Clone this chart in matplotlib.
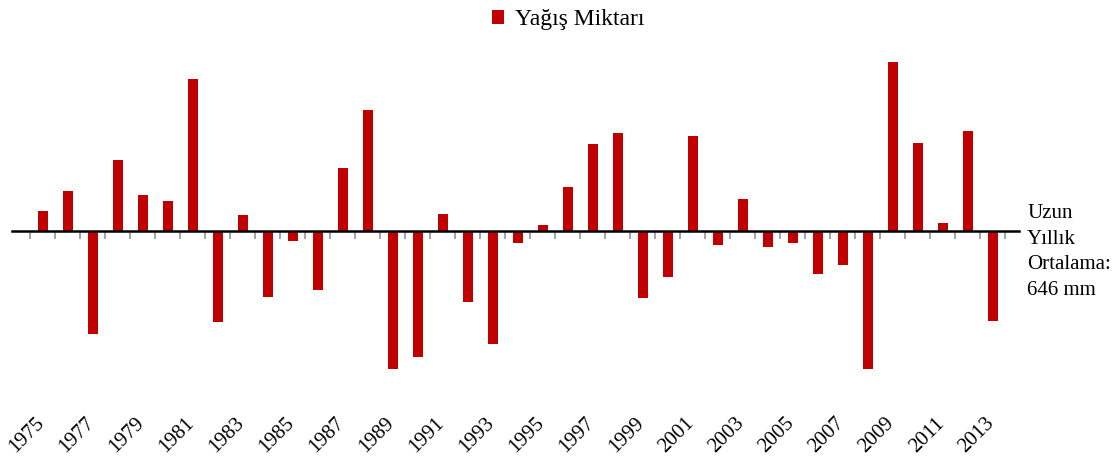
import matplotlib
matplotlib.use("Agg")
import matplotlib.pyplot as plt
from matplotlib.patches import Patch
import numpy as np

plt.rcParams['font.family'] = ['Liberation Serif', 'DejaVu Serif']

years = list(range(1975, 2014))
# deviation from long-term mean (relative units)
deviation = [20, 40, -103, 71, 36, 30, 152, -91, 16, -66,
             -10, -59, 63, 121, -138, -126, 17, -71, -113, -12,
             6, 44, 87, 98, -67, -46, 95, -14, 32, -16,
             -12, -43, -34, -138, 169, 88, 8, 100, -90]
label_years = [str(y) for y in years[::2]]
series_name = "Yağış Miktarı"
note_text = "Uzun\nYıllık\nOrtalama:\n646 mm"

W, H = 1119, 463
fig = plt.figure(figsize=(W / 100, H / 100), dpi=100)
left_px, right_px = 11.7, 1018.7
top_px, bot_px = 40, 400
ax = fig.add_axes([left_px / W, 1 - bot_px / H, (right_px - left_px) / W, (bot_px - top_px) / H])

x = np.arange(len(years))
ax.bar(x, deviation, width=0.4, color='#C00000', zorder=2)

ax.set_xlim(-1.25, 39.03)
ax.set_ylim(-(bot_px - 231), 231 - top_px)

for s in ['top', 'left', 'right']:
    ax.spines[s].set_visible(False)
ax.spines['bottom'].set_position(('data', 0))
ax.spines['bottom'].set_linewidth(1.8)
ax.spines['bottom'].set_color('black')
ax.spines['bottom'].set_zorder(3)
ax.set_yticks([])
ax.set_xticks(np.arange(-0.5, len(years), 1.0))
ax.set_xticklabels([])
ax.tick_params(axis='x', direction='out', length=6, width=1.1, color='#8c8c8c')

ax2 = ax.twiny()
ax2.set_xlim(ax.get_xlim())
for s in ax2.spines.values():
    s.set_visible(False)
ax2.xaxis.set_ticks_position('bottom')
ax2.xaxis.set_label_position('bottom')
ax2.set_xticks(x[::2] - 0.32)
ax2.set_xticklabels(label_years, rotation=45, ha='right', va='top',
                    rotation_mode='anchor', fontsize=15)
ax2.tick_params(axis='x', length=0, pad=10)

handle = Patch(facecolor='#C00000', edgecolor='none')
fig.legend([handle], [series_name], loc='center', bbox_to_anchor=(568 / W, 1 - 20 / H),
           frameon=False, fontsize=17, handlelength=0.55, handleheight=0.55,
           handletextpad=0.45, borderaxespad=0)

fig.text(1027 / W, 1 - 204 / H, note_text, fontsize=15, va='top', ha='left', linespacing=1.47)

fig.savefig('out.png', dpi=100)
